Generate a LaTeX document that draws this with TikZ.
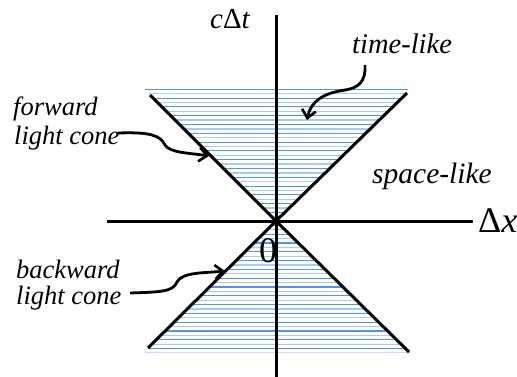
\documentclass[tikz,border=0pt]{standalone}
\usepackage{fontspec}
\setmainfont{Liberation Serif}
\usetikzlibrary{arrows.meta}
\definecolor{hatchdark}{RGB}{85,150,222}
\definecolor{hatchlight}{RGB}{170,202,238}
\begin{document}
\begin{tikzpicture}[x=1pt,y=-1pt,
  axis/.style={line width=3pt,black},
  coneline/.style={line width=3pt,black},
  pointer/.style={line width=2.8pt,black,-{Straight Barb[length=8pt,width=14pt,line width=2.6pt]}},
  lbl/.style={inner sep=0pt,anchor=base west,font=\fontsize{26.5}{28}\selectfont\itshape},
  big/.style={inner sep=0pt,anchor=base west,font=\fontsize{36}{38}\selectfont},
  hd/.style={line width=1.1pt,hatchdark},
  hl/.style={line width=1.3pt,hatchlight}]
\useasboundingbox (0,0) rectangle (517,377);
\coordinate (O) at (276,221);
% hatching top
\begin{scope}
\clip (O) -- (144,88.5) -- (409,88.5) -- cycle;
\foreach \k in {0,...,15} {
  \draw[hd] (140,{89.3+8.8*\k}) -- (412,{89.3+8.8*\k});
  \draw[hl] (140,{93.7+8.8*\k}) -- (412,{93.7+8.8*\k});
}
\end{scope}
% hatching bottom
\begin{scope}
\clip (O) -- (145,352.5) -- (411,352.5) -- cycle;
\foreach \k in {0,...,15} {
  \draw[hl] (140,{221+8.8*\k}) -- (412,{221+8.8*\k});
  \draw[hd] (140,{225.4+8.8*\k}) -- (412,{225.4+8.8*\k});
}
\end{scope}
% axes
\coordinate (ytop) at (276,15);
\coordinate (ybot) at (276,378);
\coordinate (xl) at (107,221);
\coordinate (xr) at (473,221);
\draw[axis] (ybot) -- (ytop);
\draw[axis] (xl) -- (xr);
% cone lines
\coordinate (tl) at (150,95);
\coordinate (tr) at (407,93);
\coordinate (bl) at (148,348);
\coordinate (br) at (409,352);
\draw[coneline] (tl) -- (O) -- (br);
\draw[coneline] (tr) -- (O) -- (bl);
% labels
\node[lbl,font=\fontsize{29}{31}\selectfont] (ct) at (210,29) {\itshape c\upshape Δ\itshape t};
\node[big] (dx) at (478,232) {Δ\itshape x};
\node[big] (zero) at (259,262) {0};
\node[lbl,font=\fontsize{28.5}{30}\selectfont\itshape] (tl1) at (352,54) {time-like};
\node[lbl,font=\fontsize{29.5}{31}\selectfont\itshape] (sl) at (372,183) {space-like};
\node[lbl] (fw1) at (13,116) {forward};
\node[lbl] (fw2) at (14,145) {light cone};
\node[lbl] (bw1) at (16,278) {backward};
\node[lbl] (bw2) at (16,304) {light cone};
% arrows
\coordinate (fs) at (118,133);
\coordinate (fm) at (165,145);
\coordinate (ft) at (209,156);
\draw[pointer] (fs) .. controls (150,132) and (160,135) .. (fm) .. controls (170,153) and (190,153) .. (ft);
\coordinate (ts) at (365,65);
\coordinate (tm) at (345,90);
\coordinate (tt) at (307,120);
\draw[pointer] (ts) .. controls (366,82) and (358,88) .. (tm) .. controls (325,93) and (311,100) .. (tt);
\coordinate (bs) at (130,293);
\coordinate (bm) at (177,282);
\coordinate (bt) at (225,271);
\draw[pointer] (bs) .. controls (160,292) and (173,292) .. (bm) .. controls (182,272) and (205,273) .. (bt);
\end{tikzpicture}
\end{document}
